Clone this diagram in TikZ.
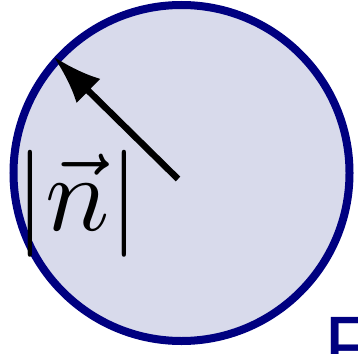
\documentclass[tikz,border=0pt]{standalone}
\usepackage{fontspec}
\newfontfamily\labelsans{Liberation Sans}
\usetikzlibrary{arrows.meta}
\definecolor{rimblue}{RGB}{0,0,128}
\definecolor{discfill}{RGB}{216,218,235}
\tikzset{
  disc/.style={circle, draw=rimblue, fill=discfill, line width=8pt, minimum size=336pt, inner sep=0pt},
  normalarrow/.style={line width=6.5pt, -{Latex[length=49pt, width=34pt]}},
  biglabel/.style={inner sep=0pt},
  flabel/.style={inner sep=0pt, anchor=base west, text=rimblue, font=\labelsans\fontsize{83}{83}\selectfont}
}
\begin{document}
\begin{tikzpicture}[x=1pt, y=-1pt]
\useasboundingbox (0,0) rectangle (358,353);
\node[disc] (c) at (181.5,173) {};
\coordinate (tail) at (178,179);
\coordinate (tip) at (53.5,56.5);
\draw[normalarrow] (tail) -- (tip);
\node[biglabel] (lab) at (77.5,203.5) {\scalebox{10.7}{$|\vec{n}|$}};
\node[flabel] (f) at (324,374) {F};
\end{tikzpicture}
\end{document}
